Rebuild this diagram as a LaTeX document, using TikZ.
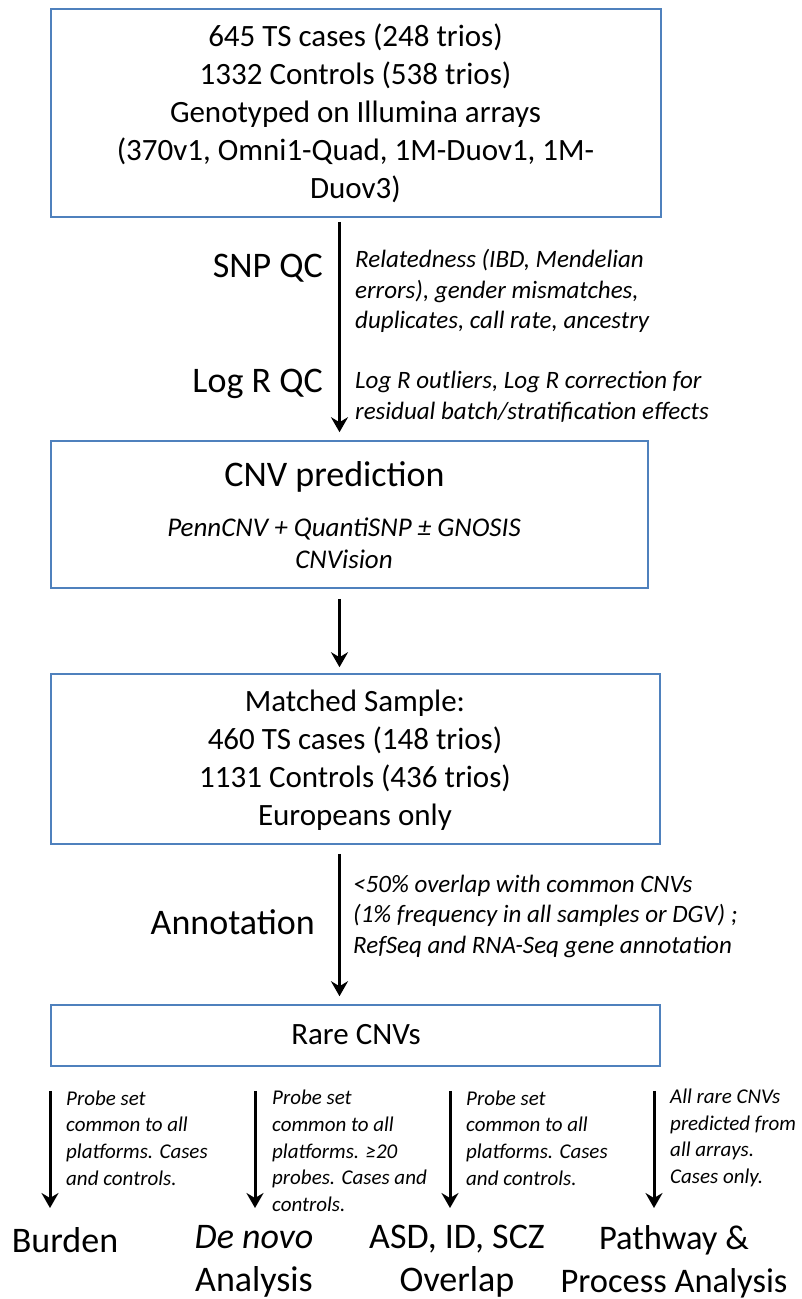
\documentclass[tikz,border=0pt]{standalone}
\usepackage{fontspec}
\setmainfont{Carlito}
\usetikzlibrary{arrows.meta}
\definecolor{boxblue}{HTML}{4F81BD}
\begin{document}
\begin{tikzpicture}[x=1pt,y=-1pt,
  box/.style={draw=boxblue, line width=1.6pt, rectangle, inner sep=0pt},
  arr/.style={line width=3pt, -{Stealth[length=15pt,width=17pt,inset=5pt]}},
  boxtxt/.style={align=center, font=\fontsize{31}{38}\selectfont, inner sep=0pt},
  big/.style={font=\fontsize{36}{43}\selectfont, inner sep=0pt},
  note/.style={align=left, font=\fontsize{25}{30.5}\selectfont\itshape, inner sep=0pt, anchor=west},
  small/.style={align=left, font=\fontsize{21}{26.7}\selectfont\itshape, inner sep=0pt, anchor=west},
]
\useasboundingbox (0,0) rectangle (801,1299);

% boxes
\node[box, minimum width=610pt, minimum height=208pt] (box1) at (356,113) {};
\node[box, minimum width=597pt, minimum height=147pt] (box2) at (349.5,514.5) {};
\node[box, minimum width=609pt, minimum height=170pt] (box3) at (355.5,759) {};
\node[box, minimum width=609pt, minimum height=61pt] (box4) at (355.5,1035.5) {};

% box texts
\node[boxtxt] (box1t) at (355.5,113) {645 TS cases (248 trios)\\1332 Controls (538 trios)\\Genotyped on Illumina arrays\\(370v1, Omni1-Quad, 1M-Duov1, 1M-\\Duov3)};
\node[big] (cnvt) at (334.5,477) {CNV prediction};
\node[align=center, font=\fontsize{27}{32}\selectfont\itshape, inner sep=0pt] (cnvs) at (344,543) {PennCNV + QuantiSNP ± GNOSIS\\CNVision};
\node[boxtxt] (box3t) at (355,760) {Matched Sample:\\460 TS cases (148 trios)\\1131 Controls (436 trios)\\Europeans only};
\node[boxtxt] (box4t) at (356,1035) {Rare CNVs};

% step labels
\node[big, anchor=east] (snp) at (323,268) {SNP QC};
\node[big, anchor=east] (logr) at (323,384) {Log R QC};
\node[big, anchor=east] (annot) at (315,922) {Annotation};

% notes
\node[note] (snpn) at (355,291) {Relatedness (IBD, Mendelian\\errors), gender mismatches,\\duplicates, call rate, ancestry};
\node[note] (logrn) at (355,397) {Log R outliers, Log R correction for\\residual batch/stratification effects};
\node[note] (annn) at (353,916) {<50\% overlap with common CNVs\\(1\% frequency in all samples or DGV) ;\\RefSeq and RNA-Seq gene annotation};

% main arrows
\coordinate (ax) at (339.5,0);
\draw[arr, shorten <=4pt, shorten >=8pt] (box1.south -| ax) -- (box2.north -| ax);
\draw[arr, shorten <=10pt, shorten >=6pt] (box2.south -| ax) -- (box3.north -| ax);
\draw[arr, shorten <=9pt, shorten >=8pt] (box3.south -| ax) -- (box4.north -| ax);

% bottom column notes
\node[small] (c1n) at (66,1138) {Probe set\\common to all\\platforms. Cases\\and controls.};
\node[small] (c2n) at (272,1151) {Probe set\\common to all\\platforms. ≥20\\probes. Cases and\\controls.};
\node[small] (c3n) at (466,1138) {Probe set\\common to all\\platforms. Cases\\and controls.};
\node[small] (c4n) at (670,1138) {All rare CNVs\\predicted from\\all arrays.\\Cases only.};

% bottom labels
\node[big] (burden) at (65,1240) {Burden};
\node[big, align=center] (denovo) at (254,1261.5) {\textit{De novo}\\Analysis};
\node[big, align=center] (overlap) at (457,1261.5) {ASD, ID, SCZ\\Overlap};
\node[align=center, inner sep=0pt, font=\fontsize{34.5}{43}\selectfont] (pathway) at (674,1261.5) {Pathway \&\\Process Analysis};

% bottom arrows
\coordinate (e1) at (50,1208);
\coordinate (e2) at (255,1208);
\coordinate (e3) at (450,1208);
\coordinate (e4) at (654,1208);
\draw[arr, shorten <=24pt] (box4.south -| e1) -- (e1);
\draw[arr, shorten <=24pt] (box4.south -| e2) -- (e2);
\draw[arr, shorten <=24pt] (box4.south -| e3) -- (e3);
\draw[arr, shorten <=24pt] (box4.south -| e4) -- (e4);
\end{tikzpicture}
\end{document}
